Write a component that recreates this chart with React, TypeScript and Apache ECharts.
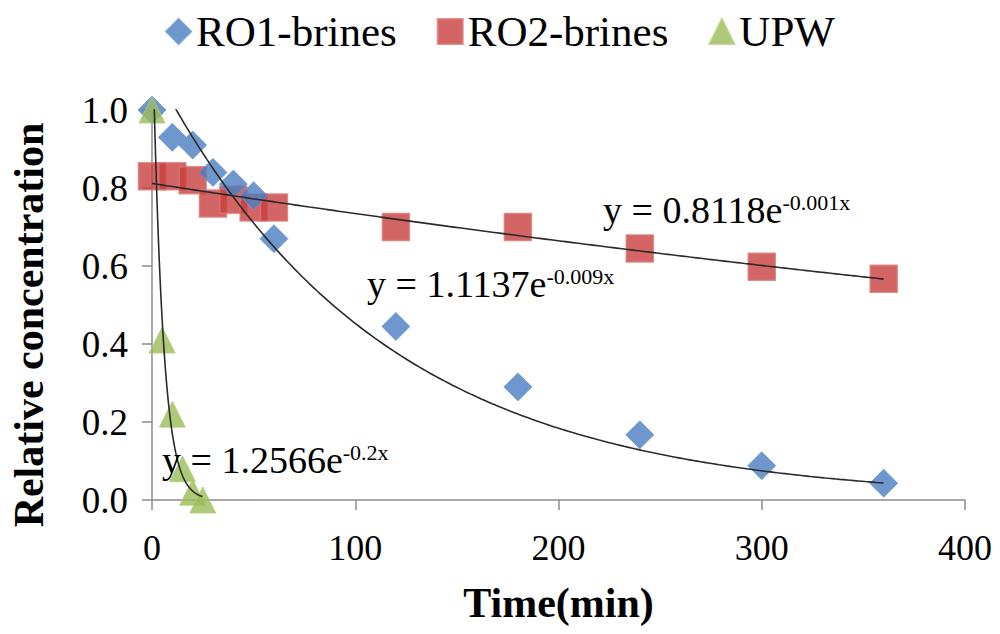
import React, { useEffect, useRef } from "react";
import * as echarts from "echarts";

// ---- data ----
const timeRO1 = [0, 10, 20, 30, 40, 50, 60, 120, 180, 240, 300, 360];
const valRO1 = [1.0, 0.93, 0.91, 0.84, 0.81, 0.78, 0.67, 0.445, 0.29, 0.167, 0.088, 0.043];
const timeRO2 = [0, 10, 20, 30, 40, 50, 60, 120, 180, 240, 300, 360];
const valRO2 = [0.83, 0.83, 0.82, 0.76, 0.77, 0.75, 0.75, 0.70, 0.70, 0.645, 0.598, 0.567];
const timeUPW = [0, 5, 10, 15, 20, 25];
const valUPW = [1.0, 0.41, 0.22, 0.08, 0.02, 0.0];

// exponential trendlines as printed on the chart: y = a * e^(b x), drawn over [x0, x1]
const trendNames = ["RO1 fit", "RO2 fit", "UPW fit"];
const trendA = [1.1137, 0.8118, 1.2566];
const trendB = [-0.009, -0.001, -0.2];
const trendX0 = [0, 0, 0];
const trendX1 = [360, 360, 25];
const trendLabels = ["y = 1.1137e", "y = 0.8118e", "y = 1.2566e"];
const trendExps = ["-0.009x", "-0.001x", "-0.2x"];

const xTicks = [0, 100, 200, 300, 400];
const yTicks = [0, 0.2, 0.4, 0.6, 0.8, 1.0];

const FONT = "Liberation Serif";

function trendPoints(i: number): number[][] {
  const pts: number[][] = [];
  const n = 200;
  for (let k = 0; k <= n; k++) {
    const x = trendX0[i] + ((trendX1[i] - trendX0[i]) * k) / n;
    pts.push([x, trendA[i] * Math.exp(trendB[i] * x)]);
  }
  return pts;
}

const zip = (xs: number[], ys: number[]) => xs.map((x, i) => [x, ys[i]]);

export default function App() {
  const ref = useRef<HTMLDivElement>(null);
  useEffect(() => {
    document.body.style.margin = "0";
    if (!ref.current) return;
    const chart = echarts.init(ref.current, null, { renderer: "svg" });
    const axisColor = "#8c8c8c";
    const labelPos = [
      { x: 367, y: 284 },
      { x: 603, y: 210 },
      { x: 162, y: 460 },
    ];
    chart.setOption({
      animation: false,
      backgroundColor: "#ffffff",
      textStyle: { fontFamily: FONT },
      legend: {
        left: "center",
        top: 5,
        itemWidth: 25,
        itemHeight: 25,
        itemGap: 40,
        textStyle: { fontSize: 43, color: "#000", fontFamily: FONT, fontWeight: "normal" },
        data: [
          { name: "RO1-brines", icon: "diamond" },
          { name: "RO2-brines", icon: "rect" },
          { name: "UPW", icon: "triangle" },
        ],
      },
      grid: { left: 152, right: 35, top: 110, bottom: 134 },
      xAxis: {
        type: "value",
        min: xTicks[0],
        max: xTicks[xTicks.length - 1],
        interval: 100,
        axisLine: { show: true, onZero: false, lineStyle: { color: axisColor, width: 1.5 } },
        axisTick: { show: true, length: 10, lineStyle: { color: axisColor, width: 1.5 } },
        splitLine: { show: false },
        axisLabel: { fontSize: 36, color: "#000", margin: 30, fontFamily: FONT, fontWeight: "normal" },
        name: "Time(min)",
        nameLocation: "middle",
        nameGap: 82,
        nameTextStyle: { fontSize: 42, fontWeight: "bold", color: "#000", fontFamily: FONT },
      },
      yAxis: {
        type: "value",
        min: yTicks[0],
        max: yTicks[yTicks.length - 1],
        interval: 0.2,
        axisLine: { show: true, onZero: false, lineStyle: { color: axisColor, width: 1.5 } },
        axisTick: { show: true, length: 10, lineStyle: { color: axisColor, width: 1.5 } },
        splitLine: { show: false },
        axisLabel: {
          fontSize: 37,
          color: "#000",
          margin: 24,
          fontFamily: FONT,
          fontWeight: "normal",
          formatter: (v: number) => v.toFixed(1),
        },
        name: "Relative concentration",
        nameLocation: "middle",
        nameGap: 102,
        nameRotate: 90,
        nameTextStyle: {
          fontSize: 42,
          fontWeight: "bold",
          color: "#000",
          fontFamily: FONT,
          padding: [0, 40, 0, 0],
        },
      },
      series: [
        {
          name: "RO1-brines",
          type: "scatter",
          symbol: "diamond",
          symbolSize: 28,
          z: 3,
          itemStyle: { color: "#4A7EC0", borderColor: "#6C98D0", borderWidth: 1 },
          data: zip(timeRO1, valRO1),
        },
        {
          name: "RO2-brines",
          type: "scatter",
          symbol: "rect",
          symbolSize: 27,
          z: 2,
          itemStyle: { color: "#C8403E", borderColor: "#DB7775", borderWidth: 1.5 },
          data: zip(timeRO2, valRO2),
        },
        {
          name: "UPW",
          type: "scatter",
          symbol: "triangle",
          symbolSize: 26,
          z: 4,
          itemStyle: { color: "#9BBB59", borderColor: "#B3CE7C", borderWidth: 1 },
          data: zip(timeUPW, valUPW),
        },
        ...trendNames.map((nm, i) => ({
          name: nm,
          type: "line",
          showSymbol: false,
          symbol: "none",
          z: 6,
          clip: true,
          silent: true,
          lineStyle: { color: "#2a2a2a", width: 1.6 },
          data: trendPoints(i),
        })),
      ],
      graphic: trendLabels.map((t, i) => ({
        type: "text",
        x: labelPos[i].x,
        y: labelPos[i].y,
        z: 10,
        style: {
          text: `{a|${t}}{b|${trendExps[i]}}`,
          align: "left",
          verticalAlign: "middle",
          fontFamily: FONT,
          rich: {
            a: { fontSize: 38, lineHeight: 38, fontFamily: FONT, fill: "#000" },
            b: { fontSize: 22, lineHeight: 26, fontFamily: FONT, fill: "#000", verticalAlign: "top" },
          },
        },
      })),
    });
    return () => chart.dispose();
  }, []);
  return <div ref={ref} style={{ width: 1000, height: 634 }} />;
}
